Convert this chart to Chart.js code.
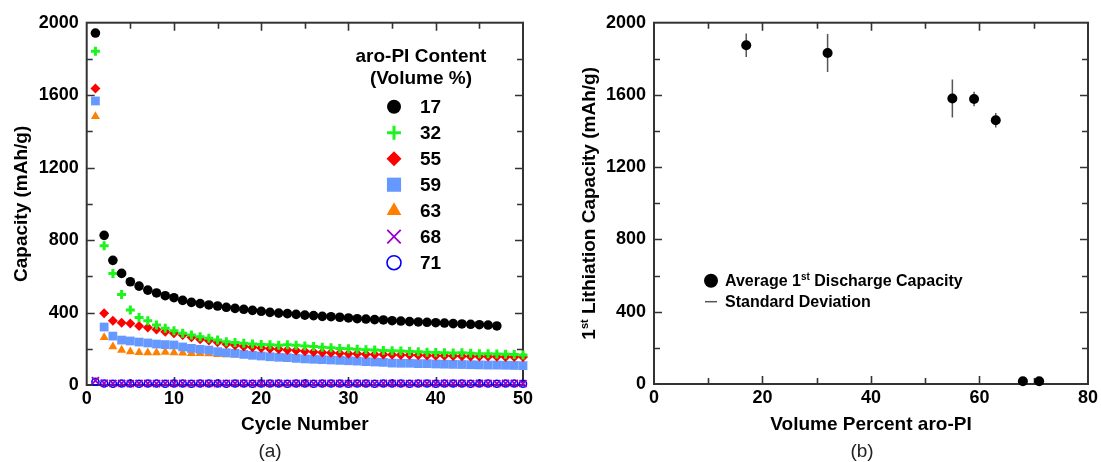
<!DOCTYPE html>
<html>
<head>
<meta charset="utf-8">
<script src="https://cdn.jsdelivr.net/npm/chart.js@4.4.0/dist/chart.umd.min.js"></script>
<style>
  html, body { margin: 0; padding: 0; background: #fff; }
  #wrap { position: relative; width: 1101px; height: 462px; }
  #cycleChart { position: absolute; left: 0; top: 0; }
  #firstChart { position: absolute; left: 550px; top: 0; }
</style>
</head>
<body>
<div id="wrap">
  <canvas id="cycleChart" width="550" height="462"></canvas>
  <canvas id="firstChart" width="551" height="462"></canvas>
</div>
<script>
const FONT = "'Liberation Sans', Arial, sans-serif";

// (a) capacity vs cycle number, one series per aro-PI volume %
const cycles = [1, 2, 3, 4, 5, 6, 7, 8, 9, 10, 11, 12, 13, 14, 15, 16, 17, 18, 19, 20,
  21, 22, 23, 24, 25, 26, 27, 28, 29, 30, 31, 32, 33, 34, 35, 36, 37, 38, 39, 40,
  41, 42, 43, 44, 45, 46, 47, 48, 49, 50];
const cap17 = [1943, 826, 688, 616, 570, 546, 524, 508, 493, 482,
  467, 456, 449, 442, 436, 429, 423, 418, 412, 407,
  401, 397, 394, 390, 386, 383, 379, 377, 374, 370,
  366, 364, 361, 359, 355, 353, 350, 348, 346, 344,
  342, 339, 337, 335, 333, 331, 326];
const cap32 = [1843, 769, 616, 500, 414, 373, 355, 331, 313, 300,
  285, 276, 267, 258, 248, 239, 234, 230, 226, 224,
  222, 220, 222, 220, 215, 212, 208, 205, 202, 200,
  198, 195, 193, 191, 189, 187, 185, 183, 181, 180,
  178, 177, 178, 175, 173, 172, 171, 170, 168, 166];
const cap55 = [1637, 396, 355, 344, 340, 326, 318, 307, 294, 285,
  276, 263, 252, 245, 236, 226, 219, 212, 208, 204,
  200, 197, 193, 190, 186, 182, 180, 178, 175, 173,
  172, 170, 169, 168, 167, 166, 165, 164, 163, 162,
  161, 160, 159, 158, 158, 157, 156, 155, 155, 154];
const cap59 = [1568, 320, 270, 248, 243, 237, 232, 226, 223, 221,
  210, 202, 197, 193, 184, 178, 175, 169, 164, 160,
  156, 153, 151, 147, 144, 142, 140, 138, 136, 134,
  132, 129, 127, 125, 121, 120, 120, 118, 118, 116,
  115, 114, 113, 112, 111, 110, 110, 109, 108, 107];
const cap63 = [1483, 263, 212, 193, 184, 180, 178, 178, 182, 178,
  177, 175, 175, 173, 169, 167, 166];
const cap68 = [24, 10, 9, 9, 8, 9, 9, 8, 9, 9,
  9, 8, 9, 9, 8, 9, 9, 9, 8, 9,
  9, 9, 8, 9, 9, 8, 9, 9, 9, 8,
  9, 9, 8, 9, 9, 9, 8, 9, 9, 8,
  9, 9, 9, 8, 9, 9, 8, 9, 9, 8];
const cap71 = [18, 8, 7, 8, 8, 7, 8, 8, 7, 8,
  8, 7, 8, 8, 8, 7, 8, 8, 7, 8,
  8, 8, 7, 8, 8, 7, 8, 8, 8, 7,
  8, 8, 7, 8, 8, 8, 7, 8, 8, 7,
  8, 8, 8, 7, 8, 8, 7, 8, 8, 7];
const contents = ['17', '32', '55', '59', '63', '68', '71'];

// (b) first lithiation capacity vs volume percent, with standard deviation
const volumes = [17, 32, 55, 59, 63, 68, 71];
const firstCap = [1875, 1832, 1580, 1578, 1460, 15, 15];
const firstStd = [65, 105, 105, 40, 40, 0, 0];

function toPoints(xs, ys) {
  return ys.map((y, i) => ({ x: xs[i], y: y }));
}

const tickFont = { family: FONT, size: 18, weight: 'bold' };
const titleFont = { family: FONT, size: 19, weight: 'bold' };
const plainNum = { useGrouping: false };

// frame around the plot area with inward ticks on all four sides
function frameTicks(xStep, xMajor, yStep, yMajor) {
  return {
    id: 'frameTicks',
    beforeDatasetsDraw(chart) {
      const { ctx, chartArea: a, scales: { x, y } } = chart;
      ctx.save();
      ctx.strokeStyle = '#333';
      ctx.lineWidth = 1.6;
      ctx.beginPath();
      for (let v = x.min + xStep; v < x.max; v += xStep) {
        const px = Math.round(x.getPixelForValue(v)) + 0.5;
        const len = v % xMajor === 0 ? 8 : 6;
        ctx.moveTo(px, a.bottom); ctx.lineTo(px, a.bottom - len);
        ctx.moveTo(px, a.top); ctx.lineTo(px, a.top + len);
      }
      for (let v = y.min + yStep; v < y.max; v += yStep) {
        const py = Math.round(y.getPixelForValue(v)) + 0.5;
        const len = v % yMajor === 0 ? 8 : 6;
        ctx.moveTo(a.left, py); ctx.lineTo(a.left + len, py);
        ctx.moveTo(a.right, py); ctx.lineTo(a.right - len, py);
      }
      ctx.stroke();
      ctx.lineWidth = 2;
      ctx.strokeRect(a.left, a.top, a.right - a.left, a.bottom - a.top);
      ctx.restore();
    }
  };
}

// panel letter under the axis title
const panelTag = {
  id: 'panelTag',
  afterDraw(chart, args, opts) {
    const ctx = chart.ctx;
    ctx.save();
    ctx.fillStyle = '#222';
    ctx.font = `19px ${FONT}`;
    ctx.textAlign = 'center';
    ctx.textBaseline = 'middle';
    ctx.fillText(opts.text, opts.x, opts.y);
    ctx.restore();
  }
};

// text with a raised ordinal suffix, e.g. 1st
function supWidth(ctx, size, pre, sup, post) {
  ctx.font = `bold ${size}px ${FONT}`;
  let w = ctx.measureText(pre).width + ctx.measureText(post).width;
  ctx.font = `bold ${Math.round(size * 0.6)}px ${FONT}`;
  return w + ctx.measureText(sup).width;
}
function supText(ctx, x, y, size, pre, sup, post) {
  ctx.textAlign = 'left';
  ctx.textBaseline = 'middle';
  ctx.font = `bold ${size}px ${FONT}`;
  const w1 = ctx.measureText(pre).width;
  ctx.fillText(pre, x, y);
  ctx.font = `bold ${Math.round(size * 0.6)}px ${FONT}`;
  const w2 = ctx.measureText(sup).width;
  ctx.fillText(sup, x + w1, y - size * 0.28);
  ctx.font = `bold ${size}px ${FONT}`;
  ctx.fillText(post, x + w1 + w2, y);
}

// legend block for panel (a), drawn inside the plot area
const cycleLegend = {
  id: 'cycleLegend',
  afterDatasetsDraw(chart) {
    const { ctx, chartArea: a } = chart;
    const cx = a.right - 102;
    ctx.save();
    ctx.fillStyle = '#000';
    ctx.textAlign = 'center';
    ctx.textBaseline = 'middle';
    ctx.font = `bold 19px ${FONT}`;
    ctx.fillText('aro-PI Content', cx, a.top + 34);
    ctx.fillText('(Volume %)', cx, a.top + 56);
    chart.data.datasets.forEach((ds, i) => {
      const y = a.top + 84 + i * 26;
      ctx.fillStyle = ds.backgroundColor;
      ctx.strokeStyle = ds.borderColor;
      ctx.lineWidth = ds.borderWidth;
      Chart.helpers.drawPoint(ctx, {
        pointStyle: ds.pointStyle, radius: ds.legendRadius,
        borderWidth: ds.borderWidth, rotation: 0
      }, cx - 27, y);
      ctx.fillStyle = '#000';
      ctx.textAlign = 'left';
      ctx.font = `bold 19px ${FONT}`;
      ctx.fillText(ds.label, cx - 1, y + 1);
    });
    ctx.restore();
  }
};

const seriesStyle = [
  { data: cap17, pointStyle: 'circle', radius: 4.8, legendRadius: 7, backgroundColor: '#000000', borderColor: '#000000', borderWidth: 0 },
  { data: cap32, pointStyle: 'cross', radius: 4.5, legendRadius: 7, backgroundColor: '#1cf51c', borderColor: '#1cf51c', borderWidth: 3 },
  { data: cap55, pointStyle: 'rectRot', radius: 5, legendRadius: 7.5, backgroundColor: '#ff0000', borderColor: '#ff0000', borderWidth: 0 },
  { data: cap59, pointStyle: 'rect', radius: 6.2, legendRadius: 10, backgroundColor: '#6699ff', borderColor: '#6699ff', borderWidth: 0 },
  { data: cap63, pointStyle: 'triangle', radius: 5.2, legendRadius: 8.5, backgroundColor: '#ff8000', borderColor: '#ff8000', borderWidth: 0 },
  { data: cap68, pointStyle: 'crossRot', radius: 5, legendRadius: 9.5, backgroundColor: '#9900cc', borderColor: '#9900cc', borderWidth: 1.8 },
  { data: cap71, pointStyle: 'circle', radius: 3.5, legendRadius: 7, backgroundColor: 'rgba(255,255,255,0)', borderColor: '#0000ff', borderWidth: 1.6 }
];

new Chart(document.getElementById('cycleChart'), {
  type: 'scatter',
  data: {
    datasets: seriesStyle.map((s, i) => ({
      label: contents[i],
      data: toPoints(cycles, s.data),
      pointStyle: s.pointStyle,
      pointRadius: s.radius,
      legendRadius: s.legendRadius,
      backgroundColor: s.backgroundColor,
      borderColor: s.borderColor,
      borderWidth: s.borderWidth,
      pointBackgroundColor: s.backgroundColor,
      pointBorderColor: s.borderColor,
      pointBorderWidth: s.borderWidth,
      clip: false
    }))
  },
  options: {
    responsive: false,
    animation: false,
    devicePixelRatio: 1,
    layout: { padding: { top: 22.7, right: 27, left: 0, bottom: 0 } },
    plugins: {
      legend: { display: false },
      tooltip: { enabled: false },
      panelTag: { text: '(a)', x: 270, y: 452 }
    },
    scales: {
      x: {
        type: 'linear', min: 0, max: 50,
        ticks: { stepSize: 10, font: tickFont, color: '#000', padding: 3, maxRotation: 0, format: plainNum },
        grid: { display: false, drawTicks: false },
        border: { display: false },
        title: { display: true, text: 'Cycle Number', font: titleFont, color: '#000', padding: { top: 0, bottom: 25.6 } },
        afterFit(s) { s.height = 77; }
      },
      y: {
        min: 0, max: 2000,
        ticks: { stepSize: 400, font: tickFont, color: '#000', padding: 8, format: plainNum },
        grid: { display: false, drawTicks: false },
        border: { display: false },
        title: { display: true, text: 'Capacity (mAh/g)', font: titleFont, color: '#000', padding: { top: 10, bottom: 0 } },
        afterFit(s) { s.width = 86.7; }
      }
    }
  },
  plugins: [frameTicks(5, 10, 200, 400), cycleLegend, panelTag]
});

// standard deviation bars for panel (b)
const stdBars = {
  id: 'stdBars',
  beforeDatasetsDraw(chart) {
    const { ctx, scales: { x, y } } = chart;
    ctx.save();
    ctx.strokeStyle = '#555';
    ctx.lineWidth = 1.5;
    ctx.beginPath();
    volumes.forEach((v, i) => {
      if (!firstStd[i]) return;
      const px = x.getPixelForValue(v);
      ctx.moveTo(px, y.getPixelForValue(firstCap[i] - firstStd[i]));
      ctx.lineTo(px, y.getPixelForValue(firstCap[i] + firstStd[i]));
    });
    ctx.stroke();
    ctx.restore();
  }
};

// rotated y title and legend for panel (b), both need the superscript
const firstDecor = {
  id: 'firstDecor',
  afterDraw(chart) {
    const { ctx, chartArea: a } = chart;
    ctx.save();
    ctx.fillStyle = '#000';
    ctx.translate(40, (a.top + a.bottom) / 2);
    ctx.rotate(-Math.PI / 2);
    const tw = supWidth(ctx, 19, '1', 'st', ' Lithiation Capacity (mAh/g)');
    supText(ctx, -tw / 2, 0, 19, '1', 'st', ' Lithiation Capacity (mAh/g)');
    ctx.restore();

    ctx.save();
    const lx = a.left + 57, ly = a.top + 258;
    ctx.fillStyle = '#000';
    ctx.beginPath();
    ctx.arc(lx, ly, 7, 0, Math.PI * 2);
    ctx.fill();
    supText(ctx, lx + 14, ly + 1, 16, 'Average 1', 'st', ' Discharge Capacity');
    ctx.strokeStyle = '#555';
    ctx.lineWidth = 1.5;
    ctx.beginPath();
    ctx.moveTo(lx - 6, ly + 21);
    ctx.lineTo(lx + 6, ly + 21);
    ctx.stroke();
    ctx.font = `bold 16px ${FONT}`;
    ctx.textBaseline = 'middle';
    ctx.fillText('Standard Deviation', lx + 14, ly + 22);
    ctx.restore();
  }
};

new Chart(document.getElementById('firstChart'), {
  type: 'scatter',
  data: {
    datasets: [{
      label: 'Average 1st Discharge Capacity',
      data: toPoints(volumes, firstCap),
      pointStyle: 'circle',
      pointRadius: 5,
      backgroundColor: '#000',
      borderColor: '#000',
      borderWidth: 0,
      clip: false
    }]
  },
  options: {
    responsive: false,
    animation: false,
    devicePixelRatio: 1,
    layout: { padding: { top: 22.7, right: 11, left: 0, bottom: 0 } },
    plugins: {
      legend: { display: false },
      tooltip: { enabled: false },
      panelTag: { text: '(b)', x: 312, y: 452 }
    },
    scales: {
      x: {
        type: 'linear', min: 0, max: 80,
        ticks: { stepSize: 20, font: tickFont, color: '#000', padding: 3, maxRotation: 0, format: plainNum },
        grid: { display: false, drawTicks: false },
        border: { display: false },
        title: { display: true, text: 'Volume Percent aro-PI', font: titleFont, color: '#000', padding: { top: 0, bottom: 25.6 } },
        afterFit(s) { s.height = 78; }
      },
      y: {
        min: 0, max: 2000,
        ticks: { stepSize: 400, font: tickFont, color: '#000', padding: 8, format: plainNum },
        grid: { display: false, drawTicks: false },
        border: { display: false },
        title: { display: false },
        afterFit(s) { s.width = 104; }
      }
    }
  },
  plugins: [frameTicks(10, 20, 200, 400), stdBars, firstDecor, panelTag]
});
</script>
</body>
</html>
